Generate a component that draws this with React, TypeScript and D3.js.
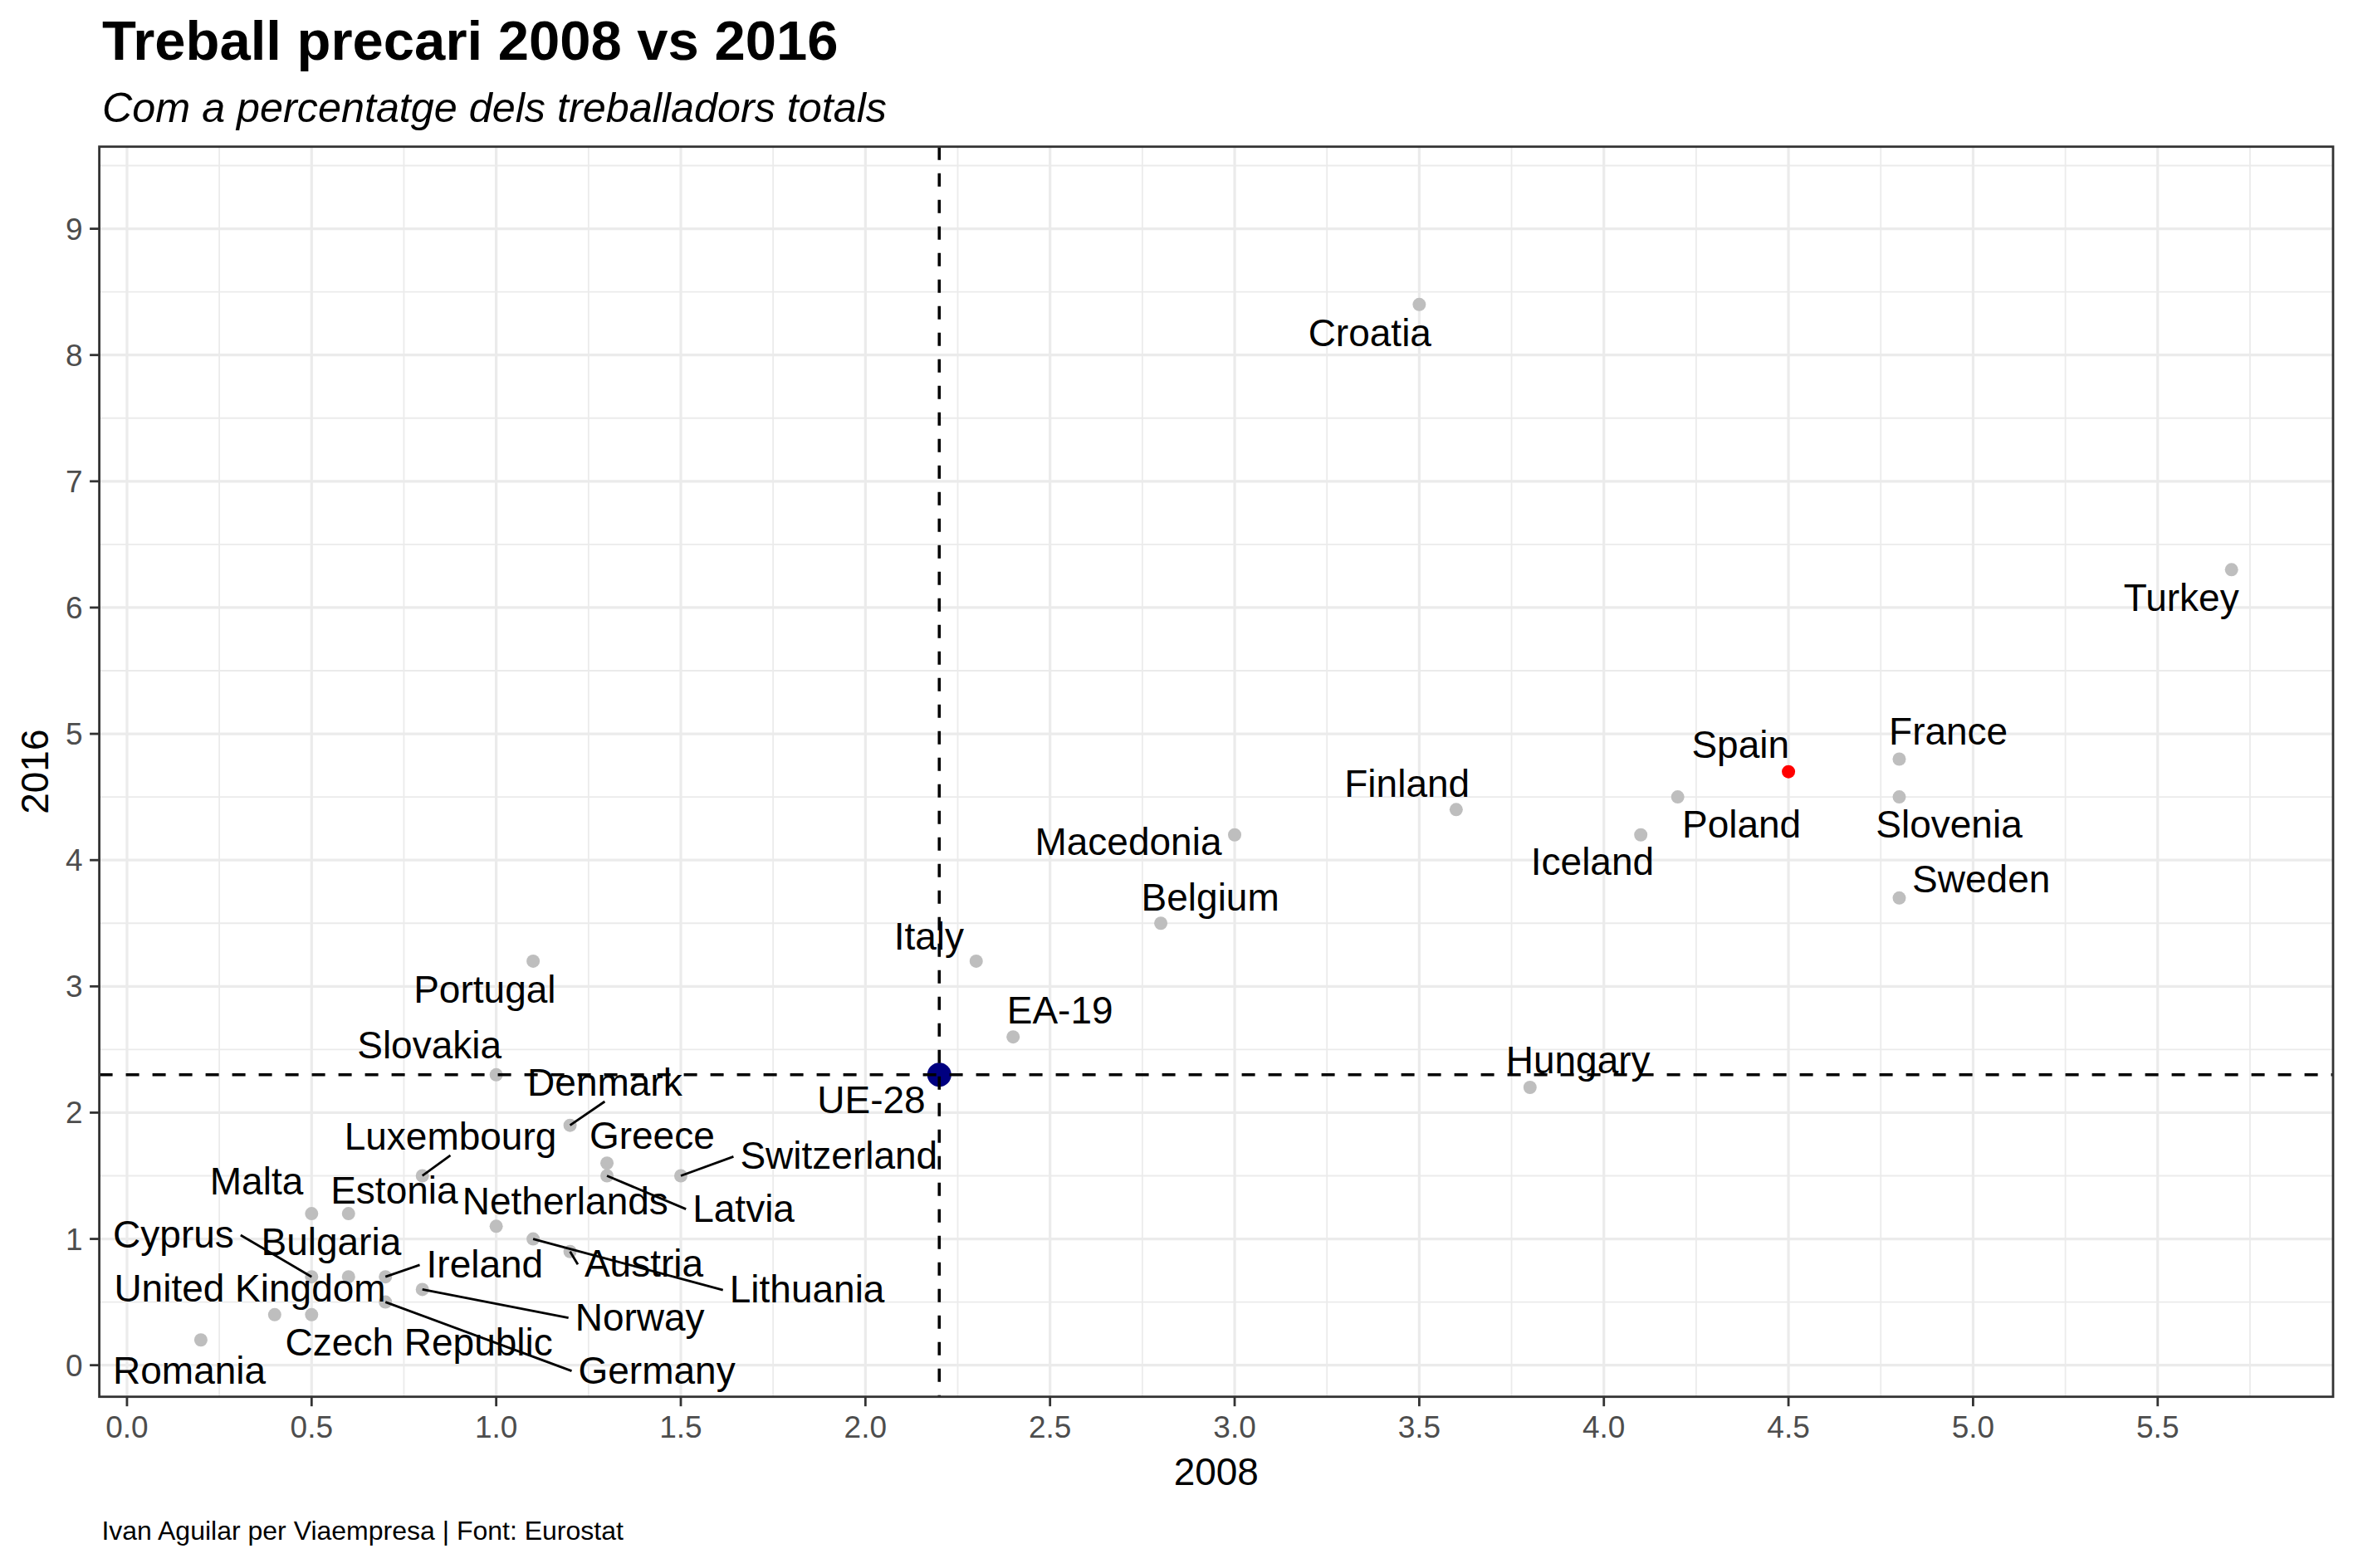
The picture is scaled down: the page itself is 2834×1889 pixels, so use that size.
import React from 'react';
import * as d3 from 'd3';

// ---- Data ----
const countries = ["Croatia","Turkey","Spain","France","Poland","Slovenia","Sweden","Iceland","Finland","Macedonia","Belgium","Italy","EA-19","UE-28","Hungary","Portugal","Slovakia","Denmark","Luxembourg","Greece","Switzerland","Latvia","Malta","Estonia","Netherlands","Cyprus","Bulgaria","Ireland","Austria","Lithuania","United Kingdom","Norway","Czech Republic","Germany","Romania"];
const values2008 = [3.5,5.7,4.5,4.8,4.2,4.8,4.8,4.1,3.6,3.0,2.8,2.3,2.4,2.2,3.8,1.1,1.0,1.2,0.8,1.3,1.5,1.3,0.5,0.6,1.0,0.5,0.6,0.7,1.2,1.1,0.4,0.8,0.5,0.7,0.2];
const values2016 = [8.4,6.3,4.7,4.8,4.5,4.5,3.7,4.2,4.4,4.2,3.5,3.2,2.6,2.3,2.2,3.2,2.3,1.9,1.5,1.6,1.5,1.5,1.2,1.2,1.1,0.7,0.7,0.7,0.9,1.0,0.4,0.6,0.4,0.5,0.2];
// repelled label positions (in data units), as placed in the reference
const labelX2008 = [3.366,5.564,4.370,4.933,4.373,4.935,5.022,3.969,3.467,2.712,2.934,2.172,2.527,2.016,3.930,0.969,0.819,1.294,0.876,1.422,1.928,1.670,0.351,0.724,1.187,0.126,0.553,0.969,1.400,1.842,0.333,1.389,0.791,1.435,0.169];
const labelY2016 = [8.166,6.072,4.909,5.013,4.277,4.277,3.844,3.982,4.599,4.139,3.700,3.390,2.806,2.097,2.411,2.970,2.529,2.233,1.806,1.812,1.652,1.236,1.448,1.378,1.293,1.030,0.973,0.794,0.798,0.595,0.601,0.375,0.176,-0.046,-0.046];
const segmentCountries = ["Denmark","Luxembourg","Switzerland","Latvia","Cyprus","Ireland","Austria","Lithuania","Norway","Germany"];
const referenceCountry = "UE-28";
const highlightCountry = "Spain";
const xTicks = [0,0.5,1,1.5,2,2.5,3,3.5,4,4.5,5,5.5];
const yTicks = [0,1,2,3,4,5,6,7,8,9];
const yLimits = [0.2, 9.2];

const title = "Treball precari 2008 vs 2016";
const subtitle = "Com a percentatge dels treballadors totals";
const caption = "Ivan Aguilar per Viaempresa | Font: Eurostat";
const xTitle = "2008";
const yTitle = "2016";

// ---- Layout ----
const W = 2834, H = 1889;
const P = { left: 119.6, right: 2810, top: 176.7, bottom: 1682.7 };
const FONT = "'Liberation Sans', Arial, Helvetica, sans-serif";
const LABEL_SIZE = 46;

let _ctx: CanvasRenderingContext2D | null = null;
function textWidth(s: string, size: number) {
  if (!_ctx) {
    const c = document.createElement('canvas');
    _ctx = c.getContext('2d');
  }
  if (!_ctx) return s.length * size * 0.55;
  _ctx.font = `${size}px 'Liberation Sans', Arial, sans-serif`;
  return _ctx.measureText(s).width;
}

export default function App() {
  const xExt = d3.extent(values2008) as [number, number];
  const xPad = (xExt[1] - xExt[0]) * 0.05;
  const yPad = (yLimits[1] - yLimits[0]) * 0.05;
  const x = d3.scaleLinear().domain([xExt[0] - xPad, xExt[1] + xPad]).range([P.left, P.right]);
  const y = d3.scaleLinear().domain([yLimits[0] - yPad, yLimits[1] + yPad]).range([P.bottom, P.top]);

  const xMinor = xTicks.map(t => t + 0.25).filter(t => t <= x.domain()[1]);
  const yMinor = yTicks.map(t => t + 0.5).filter(t => t <= y.domain()[1]);

  const refIdx = countries.indexOf(referenceCountry);
  const refX = values2008[refIdx];
  const refY = values2016[refIdx];

  const pts = countries.map((c, i) => ({
    name: c,
    px: x(values2008[i]),
    py: y(values2016[i]),
    lx: x(labelX2008[i]),
    ly: y(labelY2016[i]),
  }));

  const segments = pts.filter(p => segmentCountries.includes(p.name)).map(p => {
    const w = textWidth(p.name, LABEL_SIZE);
    const x1 = p.lx - w / 2 - 8, x2 = p.lx + w / 2 + 8;
    const y1 = p.ly - 22, y2 = p.ly + 22;
    let ex: number, ey: number;
    if (p.px < x1) { ex = x1; ey = p.ly; }
    else if (p.px > x2) { ex = x2; ey = p.ly; }
    else if (p.py < y1) { ex = p.lx; ey = y1; }
    else { ex = p.lx; ey = y2; }
    return { name: p.name, x1: p.px, y1: p.py, x2: ex, y2: ey };
  });

  return (
    <svg width={W} height={H} style={{ position: 'absolute', left: 0, top: 0, background: '#fff' }} fontFamily={FONT}>
      <rect x={0} y={0} width={W} height={H} fill="#fff" />
      {/* titles */}
      <text x={123} y={71.7} fontSize={67} fontWeight="bold" fill="#000">{title}</text>
      <text x={123} y={146.7} fontSize={50.3} fontStyle="italic" fill="#000">{subtitle}</text>

      {/* panel clip */}
      <defs>
        <clipPath id="panel">
          <rect x={P.left} y={P.top} width={P.right - P.left} height={P.bottom - P.top} />
        </clipPath>
      </defs>

      <g clipPath="url(#panel)">
        {/* minor grid */}
        {xMinor.map(t => (
          <line key={'xm' + t} x1={x(t)} x2={x(t)} y1={P.top} y2={P.bottom} stroke="#EBEBEB" strokeWidth={1.8} />
        ))}
        {yMinor.map(t => (
          <line key={'ym' + t} y1={y(t)} y2={y(t)} x1={P.left} x2={P.right} stroke="#EBEBEB" strokeWidth={1.8} />
        ))}
        {/* major grid */}
        {xTicks.map(t => (
          <line key={'xM' + t} x1={x(t)} x2={x(t)} y1={P.top} y2={P.bottom} stroke="#EBEBEB" strokeWidth={3.2} />
        ))}
        {yTicks.map(t => (
          <line key={'yM' + t} y1={y(t)} y2={y(t)} x1={P.left} x2={P.right} stroke="#EBEBEB" strokeWidth={3.2} />
        ))}

        {/* points */}
        {pts.filter(p => p.name !== referenceCountry).map(p => (
          <circle key={'p' + p.name} cx={p.px} cy={p.py} r={8}
            fill={p.name === highlightCountry ? '#FF0000' : '#BEBEBE'} />
        ))}
        <circle cx={x(refX)} cy={y(refY)} r={14.5} fill="#000080" />

        {/* reference lines */}
        <line x1={x(refX)} x2={x(refX)} y1={P.top} y2={P.bottom} stroke="#000" strokeWidth={3.6} strokeDasharray="16,16" />
        <line x1={P.left} x2={P.right} y1={y(refY)} y2={y(refY)} stroke="#000" strokeWidth={3.6} strokeDasharray="16,16" />

        {/* label segments */}
        {segments.map(s => (
          <line key={'s' + s.name} x1={s.x1} y1={s.y1} x2={s.x2} y2={s.y2} stroke="#000" strokeWidth={2.8} />
        ))}

        {/* labels */}
        {pts.map(p => (
          <text key={'l' + p.name} x={p.lx} y={p.ly + 15} fontSize={LABEL_SIZE} textAnchor="middle" fill="#000">{p.name}</text>
        ))}
      </g>

      {/* panel border */}
      <rect x={P.left} y={P.top} width={P.right - P.left} height={P.bottom - P.top} fill="none" stroke="#333333" strokeWidth={2.8} />

      {/* axes ticks & labels */}
      {xTicks.map(t => (
        <g key={'xt' + t}>
          <line x1={x(t)} x2={x(t)} y1={P.bottom} y2={P.bottom + 11.5} stroke="#333333" strokeWidth={2.8} />
          <text x={x(t)} y={1731.7} fontSize={37} textAnchor="middle" fill="#4D4D4D">{d3.format('.1f')(t)}</text>
        </g>
      ))}
      {yTicks.map(t => (
        <g key={'yt' + t}>
          <line x1={P.left - 11.5} x2={P.left} y1={y(t)} y2={y(t)} stroke="#333333" strokeWidth={2.8} />
          <text x={99.5} y={y(t) + 13} fontSize={37} textAnchor="end" fill="#4D4D4D">{String(t)}</text>
        </g>
      ))}

      {/* axis titles */}
      <text x={(P.left + P.right) / 2} y={1789} fontSize={46} textAnchor="middle" fill="#000">{xTitle}</text>
      <text transform={`translate(58, ${(P.top + P.bottom) / 2}) rotate(-90)`} fontSize={46} textAnchor="middle" fill="#000">{yTitle}</text>

      {/* caption */}
      <text x={122.4} y={1855} fontSize={32} fill="#000">{caption}</text>
    </svg>
  );
}
